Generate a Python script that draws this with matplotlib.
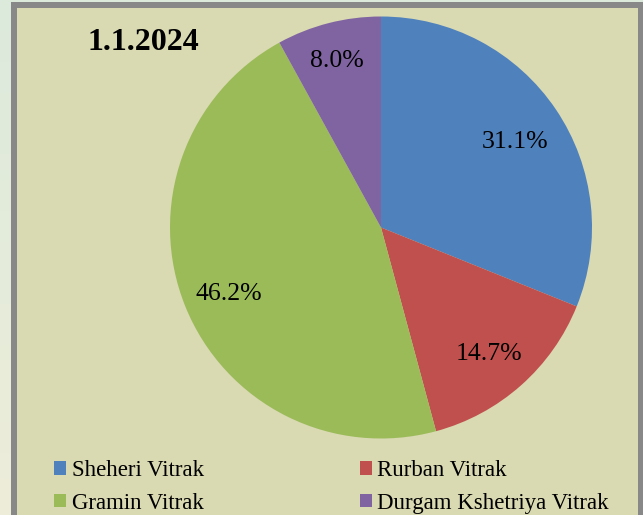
import matplotlib
matplotlib.use("Agg")
import matplotlib.pyplot as plt
import matplotlib.patches as mpatches
import numpy as np
from matplotlib.colors import LinearSegmentedColormap

categories = ["Sheheri Vitrak", "Rurban Vitrak", "Gramin Vitrak", "Durgam Kshetriya Vitrak"]
values = [31.1, 14.7, 46.2, 8.0]
colors = ["#4F81BD", "#C0504D", "#9BBB59", "#8064A2"]
title = "1.1.2024"

# label radial distances (layout only)
label_r = [0.765, 0.77, 0.78, 0.835]

W, H = 643, 515
fig = plt.figure(figsize=(W / 100, H / 100), dpi=100)
plt.rcParams['font.family'] = ['Liberation Serif', 'DejaVu Serif']

# outer background gradient
bg = fig.add_axes([0, 0, 1, 1], zorder=-10)
bg.set_axis_off()
cmap = LinearSegmentedColormap.from_list("g", ["#DCEADC", "#EDEDD9"])
bg.imshow(np.linspace(0, 1, 100).reshape(-1, 1), aspect="auto", cmap=cmap,
          extent=[0, 1, 0, 1])
bg.set_xlim(0, 1)
bg.set_ylim(0, 1)

# framed panel
lw_px = 6
rect = mpatches.Rectangle((14 / W, -0.05), (641 - 14) / W, 1.05 - 4.5 / H,
                          transform=fig.transFigure, facecolor="#D9D9B2",
                          edgecolor="#888888", linewidth=lw_px * 72 / 100,
                          clip_on=False, zorder=5)
bg.add_patch(rect)

# pie
cx, cy, r = 381, 227.5, 211
ax = fig.add_axes([(cx - r) / W, 1 - (cy + r) / H, 2 * r / W, 2 * r / H])
wedges, texts, autotexts = ax.pie(values, colors=colors, startangle=90, counterclock=False,
                                  autopct="%.1f%%", pctdistance=0.78,
                                  wedgeprops=dict(linewidth=0),
                                  textprops=dict(fontsize=18.5, color="black"))
for w, t, d in zip(wedges, autotexts, label_r):
    ang = np.deg2rad((w.theta1 + w.theta2) / 2)
    t.set_position((d * np.cos(ang), d * np.sin(ang) - 0.022))
ax.set_xlim(-1, 1)
ax.set_ylim(-1, 1)
ax.set_aspect("auto")

fig.text(88 / W, 1 - 50 / H, title, fontsize=23, fontweight="bold", ha="left", va="baseline")

handles = [mpatches.Patch(facecolor=c, edgecolor="none") for c in colors]
order = [0, 2, 1, 3]
leg = fig.legend([handles[i] for i in order], [categories[i] for i in order],
                 ncol=2, loc="upper left", bbox_to_anchor=(54 / W, 1 - 460 / H),
                 frameon=False, fontsize=16.5, handlelength=0.52, handleheight=0.52,
                 handletextpad=0.26, columnspacing=6.79, labelspacing=0.52,
                 borderaxespad=0, borderpad=0)

fig.savefig("out.png", dpi=100)
